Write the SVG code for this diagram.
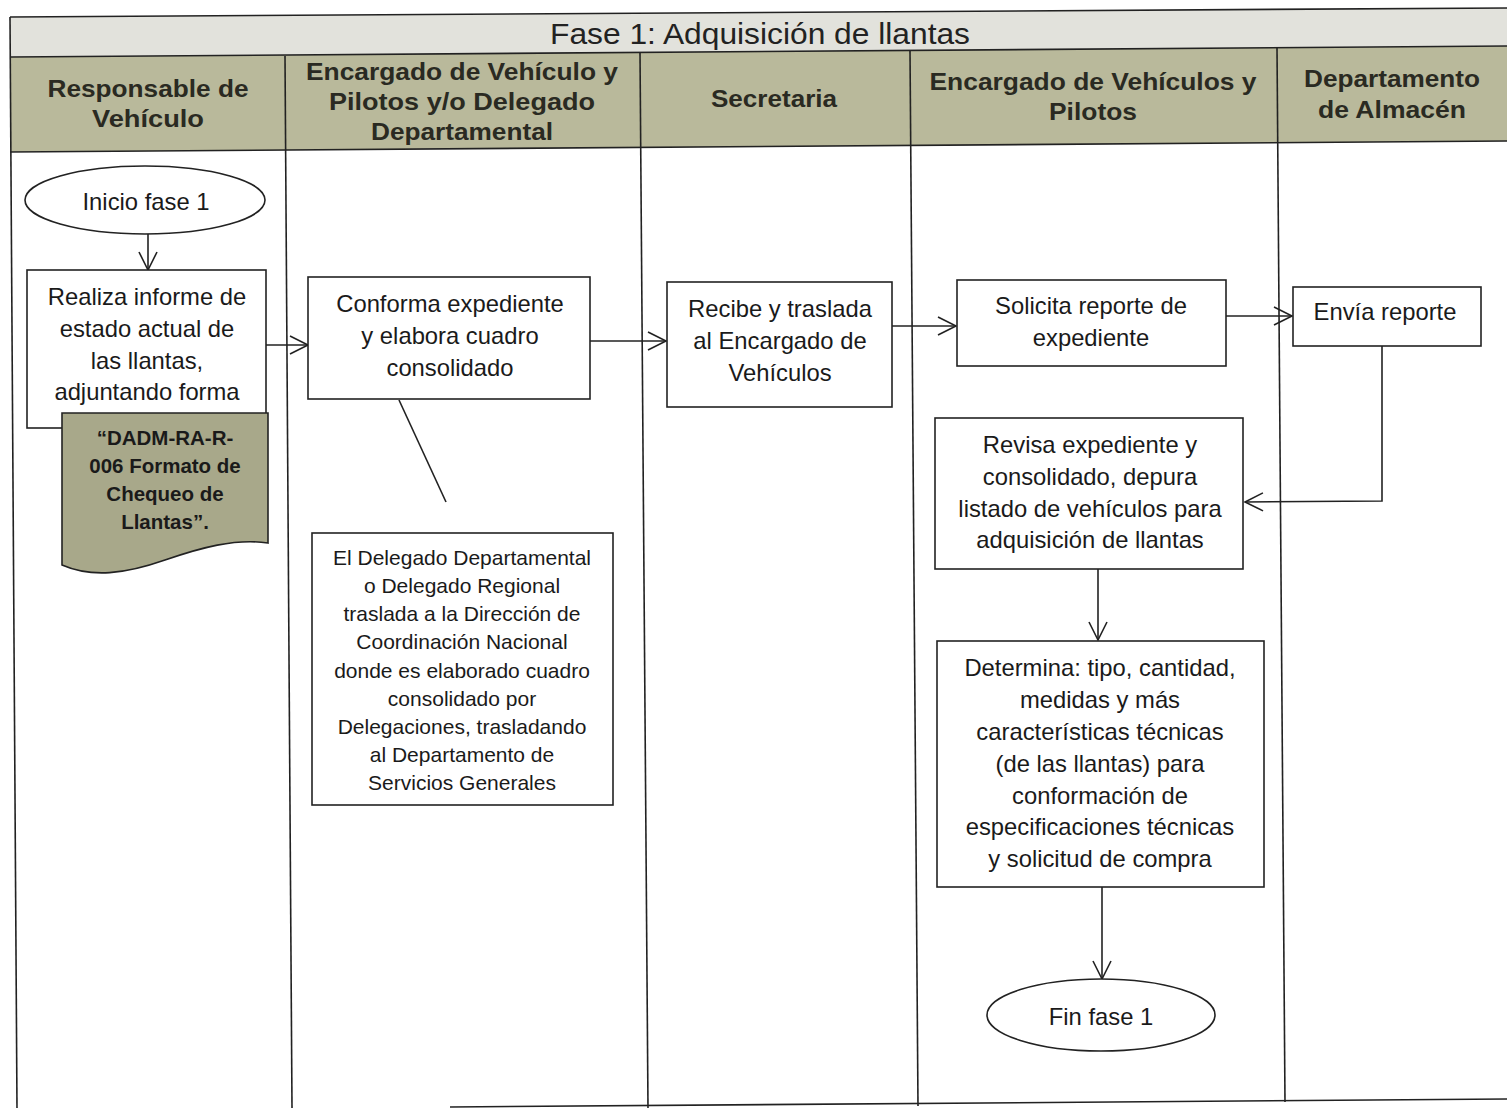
<svg xmlns="http://www.w3.org/2000/svg" width="1507" height="1108" viewBox="0 0 1507 1108">
<style>
.ln{stroke:#222;stroke-width:1.6;fill:none}
.box{fill:#fff;stroke:#222;stroke-width:1.6}
.t{font-family:"Liberation Sans",Arial,sans-serif;font-size:23.8px;fill:#1a1a1a;text-anchor:middle;dominant-baseline:central}
.ts{font-size:21px}
.tb{font-family:"Liberation Sans",Arial,sans-serif;font-weight:bold;font-size:20.5px;fill:#1a1a1a;text-anchor:middle;dominant-baseline:central}
.hd{font-family:"Liberation Sans Narrow","Liberation Sans",Arial,sans-serif;font-weight:bold;font-size:24px;fill:#2a2a22;text-anchor:middle;dominant-baseline:central}
.ti{font-family:"Liberation Sans Narrow","Liberation Sans",Arial,sans-serif;font-size:30px;fill:#222;text-anchor:middle;dominant-baseline:central}
</style>
<defs>
<marker id="ar" markerWidth="22" markerHeight="22" refX="19" refY="11" orient="auto" markerUnits="userSpaceOnUse">
<path d="M1,2 L19,11 L1,20" fill="none" stroke="#222" stroke-width="1.6"/>
</marker>
</defs>
<rect width="1507" height="1108" fill="#fff"/>
<g id="frame">
<polygon points="10,17 1507,8 1507,46 10,57" fill="#e2e2dc"/>
<polygon points="10,57 1507,46 1507,141 10,152" fill="#b9b99b"/>
<line class="ln" x1="10" y1="17" x2="1507" y2="8"/>
<line class="ln" x1="10" y1="57" x2="1507" y2="46"/>
<line class="ln" x1="10" y1="152" x2="1507" y2="141"/>
<line class="ln" x1="10" y1="17" x2="17" y2="1108"/>
<line class="ln" x1="285" y1="56" x2="292" y2="1108"/>
<line class="ln" x1="640" y1="53" x2="648" y2="1108"/>
<line class="ln" x1="910" y1="51" x2="918" y2="1106"/>
<line class="ln" x1="1277" y1="48" x2="1285" y2="1102"/>
<line class="ln" x1="450" y1="1107" x2="1507" y2="1099"/>
<text class="ti" x="760" y="33" textLength="420" lengthAdjust="spacingAndGlyphs">Fase 1: Adquisición de llantas</text>
<text class="hd" x="148" y="88" textLength="201" lengthAdjust="spacingAndGlyphs">Responsable de</text>
<text class="hd" x="148" y="118" textLength="112" lengthAdjust="spacingAndGlyphs">Vehículo</text>
<text class="hd" x="462" y="71" textLength="312" lengthAdjust="spacingAndGlyphs">Encargado de Vehículo y</text>
<text class="hd" x="462" y="101" textLength="266" lengthAdjust="spacingAndGlyphs">Pilotos  y/o Delegado</text>
<text class="hd" x="462" y="131" textLength="182" lengthAdjust="spacingAndGlyphs">Departamental</text>
<text class="hd" x="774" y="98" textLength="126" lengthAdjust="spacingAndGlyphs">Secretaria</text>
<text class="hd" x="1093" y="81" textLength="327" lengthAdjust="spacingAndGlyphs">Encargado de Vehículos y</text>
<text class="hd" x="1093" y="111" textLength="88" lengthAdjust="spacingAndGlyphs">Pilotos</text>
<text class="hd" x="1392" y="78" textLength="176" lengthAdjust="spacingAndGlyphs">Departamento</text>
<text class="hd" x="1392" y="109" textLength="148" lengthAdjust="spacingAndGlyphs">de Almacén</text>
</g>
<g id="connectors">
<line class="ln" x1="148" y1="234" x2="148" y2="270" marker-end="url(#ar)"/>
<line class="ln" x1="266" y1="345" x2="308" y2="345" marker-end="url(#ar)"/>
<line class="ln" x1="590" y1="341" x2="666" y2="341" marker-end="url(#ar)"/>
<line class="ln" x1="892" y1="326" x2="956" y2="326" marker-end="url(#ar)"/>
<line class="ln" x1="1226" y1="316" x2="1292" y2="316" marker-end="url(#ar)"/>
<polyline class="ln" points="1382,346 1382,501 1245,502" marker-end="url(#ar)"/>
<line class="ln" x1="1098" y1="569" x2="1098" y2="640" marker-end="url(#ar)"/>
<line class="ln" x1="1102" y1="887" x2="1102" y2="979" marker-end="url(#ar)"/>
<line class="ln" x1="399" y1="400" x2="446" y2="502"/>
</g>
<g id="inicio">
<ellipse cx="145" cy="200" rx="120" ry="34" class="box"/>
<text class="t" x="146" y="201">Inicio fase 1</text>
</g>
<g id="realiza">
<rect x="27" y="270" width="239" height="158" class="box"/>
<text class="t" x="147" y="296">Realiza informe de</text>
<text class="t" x="147" y="328">estado actual de</text>
<text class="t" x="147" y="360">las llantas,</text>
<text class="t" x="147" y="391">adjuntando forma</text>
</g>
<g id="documento">
<path d="M62,413 H268 V543 C235,538 200,548 165,560 C125,574 92,578 62,565 Z" fill="#a8a88a" stroke="#222" stroke-width="1.6"/>
<text class="tb" x="165" y="437">“DADM-RA-R-</text>
<text class="tb" x="165" y="465">006 Formato de</text>
<text class="tb" x="165" y="493">Chequeo de</text>
<text class="tb" x="165" y="521">Llantas”.</text>
</g>
<g id="conforma">
<rect x="308" y="277" width="282" height="122" class="box"/>
<text class="t" x="450" y="303">Conforma expediente</text>
<text class="t" x="450" y="335">y elabora cuadro</text>
<text class="t" x="450" y="367">consolidado</text>
</g>
<g id="delegado">
<rect x="312" y="533" width="301" height="272" class="box"/>
<text class="t ts" x="462" y="557">El Delegado Departamental</text>
<text class="t ts" x="462" y="585">o Delegado Regional</text>
<text class="t ts" x="462" y="613">traslada a la Dirección de</text>
<text class="t ts" x="462" y="641">Coordinación Nacional</text>
<text class="t ts" x="462" y="670">donde es elaborado cuadro</text>
<text class="t ts" x="462" y="698">consolidado por</text>
<text class="t ts" x="462" y="726">Delegaciones, trasladando</text>
<text class="t ts" x="462" y="754">al Departamento de</text>
<text class="t ts" x="462" y="782">Servicios Generales</text>
</g>
<g id="recibe">
<rect x="667" y="282" width="225" height="125" class="box"/>
<text class="t" x="780" y="308">Recibe y traslada</text>
<text class="t" x="780" y="340">al Encargado de</text>
<text class="t" x="780" y="372">Vehículos</text>
</g>
<g id="solicita">
<rect x="957" y="280" width="269" height="86" class="box"/>
<text class="t" x="1091" y="305">Solicita reporte de</text>
<text class="t" x="1091" y="337">expediente</text>
</g>
<g id="envia">
<rect x="1293" y="287" width="188" height="59" class="box"/>
<text class="t" x="1385" y="311">Envía reporte</text>
</g>
<g id="revisa">
<rect x="935" y="418" width="308" height="151" class="box"/>
<text class="t" x="1090" y="444">Revisa expediente y</text>
<text class="t" x="1090" y="476">consolidado, depura</text>
<text class="t" x="1090" y="508">listado de vehículos para</text>
<text class="t" x="1090" y="539">adquisición de llantas</text>
</g>
<g id="determina">
<rect x="937" y="641" width="327" height="246" class="box"/>
<text class="t" x="1100" y="667">Determina: tipo, cantidad,</text>
<text class="t" x="1100" y="699">medidas y más</text>
<text class="t" x="1100" y="731">características técnicas</text>
<text class="t" x="1100" y="763">(de las llantas) para</text>
<text class="t" x="1100" y="795">conformación de</text>
<text class="t" x="1100" y="826">especificaciones técnicas</text>
<text class="t" x="1100" y="858">y solicitud de compra</text>
</g>
<g id="fin">
<ellipse cx="1101" cy="1015" rx="114" ry="36" class="box"/>
<text class="t" x="1101" y="1016">Fin fase 1</text>
</g>
</svg>
